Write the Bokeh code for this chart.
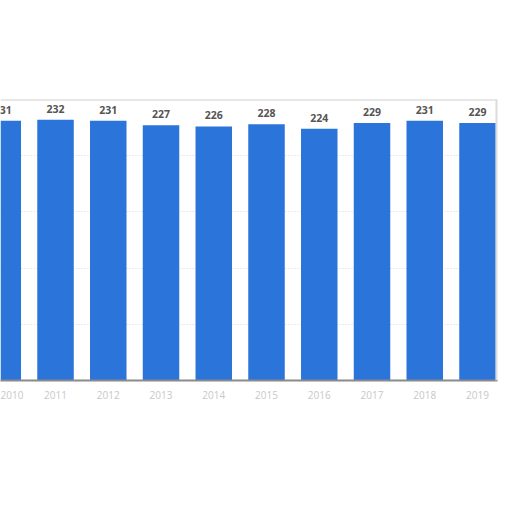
from bokeh.plotting import figure
from bokeh.models import Range1d, FixedTicker, ColumnDataSource, Span
from bokeh.core.properties import value
from bokeh.embed import file_html
from bokeh.resources import INLINE

years = ["2010", "2011", "2012", "2013", "2014", "2015", "2016", "2017", "2018", "2019"]
values = [231, 232, 231, 227, 226, 228, 224, 229, 231, 229]
idx = list(range(len(years)))
labels = [str(v) for v in values]

src = ColumnDataSource(dict(x=idx, top=values, label=labels))

p = figure(width=504, height=504, output_backend="svg", toolbar_location=None,
           x_range=Range1d(-0.043, 9.379), y_range=Range1d(0, 250),
           min_border_left=0, min_border_right=7, min_border_top=99, min_border_bottom=124)
p.outline_line_color = None
p.background_fill_color = "white"
p.border_fill_color = "white"

p.vbar(x="x", top="top", width=0.692, source=src, fill_color="#2b74d9", line_color=None)
p.text(x="x", y="top", text="label", source=src, y_offset=-7,
       text_align="center", text_baseline="bottom",
       text_font=value("Open Sans"), text_font_style="bold",
       text_font_size="10.5px", text_color="#555555")

p.yaxis.visible = False
p.ygrid.ticker = FixedTicker(ticks=[50, 100, 150, 200])
p.ygrid.grid_line_color = "#d8d8d8"
p.ygrid.grid_line_dash = "1 2"
p.xgrid.visible = False

p.add_layout(Span(location=250, dimension="width", line_color="#d0d0d0", line_width=2))
p.add_layout(Span(location=9.379, dimension="height", line_color="#dcdcdc", line_width=4))

p.xaxis.ticker = FixedTicker(ticks=idx)
p.xaxis.major_label_overrides = {i: y for i, y in zip(idx, years)}
p.xaxis.axis_line_color = "#8a8a8a"
p.xaxis.axis_line_width = 2
p.xaxis.major_tick_line_color = None
p.xaxis.minor_tick_line_color = None
p.xaxis.major_label_standoff = 4
p.xaxis.major_label_text_font = "Open Sans"
p.xaxis.major_label_text_font_size = "10px"
p.xaxis.major_label_text_color = "#c8c8c8"

open("out.html", "w").write(file_html(p, INLINE))
